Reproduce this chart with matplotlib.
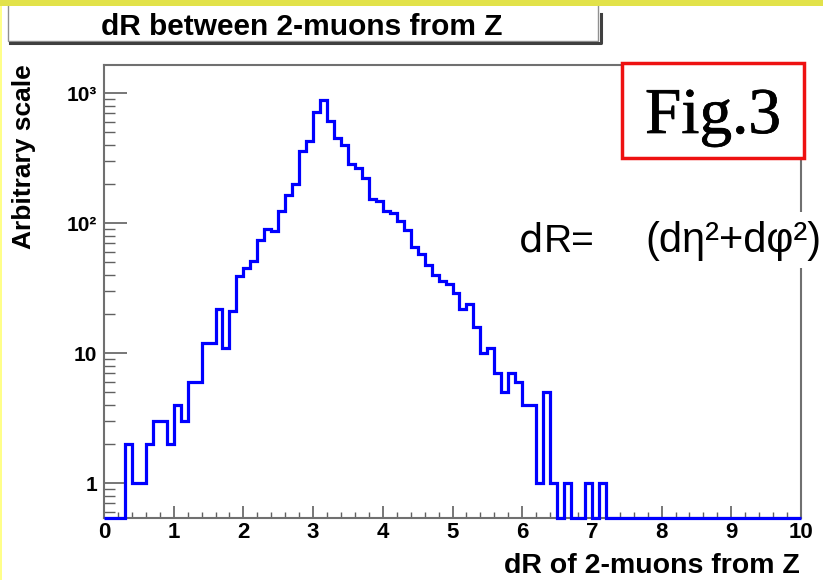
import numpy as np
import matplotlib.pyplot as plt
import matplotlib.patheffects as pe
from matplotlib.patches import Rectangle
from matplotlib.lines import Line2D
from matplotlib.ticker import FixedLocator, FixedFormatter, MultipleLocator, LogLocator, NullFormatter

plt.rcParams['font.family'] = ['Liberation Sans', 'DejaVu Sans']
plt.rcParams['font.weight'] = 'bold'

# dR histogram, 100 bins of 0.1 between 0 and 10
dr_edges = np.linspace(0, 10, 101)
dr_counts = [
    0, 0, 0, 2, 1, 1, 2, 3, 3, 2,
    4, 3, 6, 6, 12, 12, 22, 11, 21, 39,
    45, 51, 74, 90, 88, 124, 166, 200, 358, 428,
    714, 884, 617, 453, 400, 287, 266, 223, 155, 148,
    125, 120, 104, 89, 66, 58, 48, 40, 36, 34,
    29, 22, 24, 16, 10, 11, 7, 5, 7, 6,
    4, 4, 1, 5, 1, 0, 1, 0, 0, 1,
    0, 1, 0, 0, 0, 0, 0, 0, 0, 0,
    0, 0, 0, 0, 0, 0, 0, 0, 0, 0,
    0, 0, 0, 0, 0, 0, 0, 0, 0, 0,
]
y_ticks = [1, 10, 100, 1000]
y_tick_labels = ['1', '10', '10²', '10³']

W, H = 823, 580
def fx(px): return px / W
def fy(py): return 1 - py / H

fig = plt.figure(figsize=(W / 100, H / 100), dpi=100)
fig.patch.set_facecolor('white')

ax = fig.add_axes([fx(104), fy(518), fx(801) - fx(104), fy(65) - fy(518)])
ymin, ymax = 0.541, 1650
ax.set_yscale('log')
ax.set_xlim(0, 10)
ax.set_ylim(ymin, ymax)

# empty bins sit on the bottom of the frame, like ROOT draws them
shown = np.clip(np.array(dr_counts, dtype=float), ymin, None)
ax.stairs(shown, dr_edges, color='#0000ff', lw=2.3, baseline=None, clip_on=False, zorder=3)

ax.xaxis.set_major_locator(MultipleLocator(1))
ax.xaxis.set_minor_locator(MultipleLocator(0.2))
ax.yaxis.set_major_locator(FixedLocator(y_ticks))
ax.yaxis.set_major_formatter(FixedFormatter(y_tick_labels))
ax.yaxis.set_minor_locator(LogLocator(base=10, subs=np.arange(2, 10)))
ax.yaxis.set_minor_formatter(NullFormatter())

ax.tick_params(which='both', direction='in', color='#606060', labelcolor='black', top=False, right=False)
ax.tick_params(axis='x', which='major', length=8.6, width=1.2, pad=3, labelsize=16)
ax.tick_params(axis='x', which='minor', length=4.3, width=1.0)
ax.tick_params(axis='y', which='major', length=16.5, width=1.2, pad=5, labelsize=15)
ax.tick_params(axis='y', which='minor', length=8, width=1.0)
for s in ax.spines.values():
    s.set_color('#707070')
    s.set_linewidth(1.5)

fig.text(fx(24), fy(64), 'Arbitrary scale', rotation=90, ha='center', va='top', fontsize=19)
fig.text(fx(800), fy(566), 'dR of 2-muons from Z', ha='right', va='center', fontsize=20.5)

# title box with drop shadow
fig.add_artist(Rectangle((fx(8), fy(41)), fx(590), fy(2) - fy(41), transform=fig.transFigure,
                         facecolor='white', edgecolor='#909090', lw=1, zorder=4))
fig.add_artist(Line2D([fx(10), fx(601), fx(601)], [fy(43), fy(43), fy(14)],
                      transform=fig.transFigure, color='#404040', lw=2.2, zorder=4))
fig.text(fx(302), fy(27), 'dR between 2-muons from Z', ha='center', va='center', fontsize=21.5, zorder=5)

# yellow edges of the page
fig.add_artist(Rectangle((0, fy(6)), 1, fy(0) - fy(6), transform=fig.transFigure,
                         facecolor='#e2e24a', edgecolor='none', zorder=6))
fig.add_artist(Rectangle((0, 0), fx(2), fy(6), transform=fig.transFigure,
                         facecolor='#ffff8a', edgecolor='none', zorder=6))

# Fig.3 tag
fig.add_artist(Rectangle((fx(622), fy(158)), fx(182), fy(63) - fy(158), transform=fig.transFigure,
                         facecolor='white', edgecolor='#ee1111', lw=2.5, zorder=5))
fig.text(fx(713), fy(133), 'Fig.3', family='Liberation Serif', fontweight='normal', fontsize=47,
         ha='center', va='baseline', zorder=6,
         path_effects=[pe.withStroke(linewidth=0.5, foreground='black')])

# dR definition
fig.add_artist(Rectangle((fx(505), fy(268)), fx(318), fy(212) - fy(268), transform=fig.transFigure,
                         facecolor='white', edgecolor='none', zorder=5))
fig.text(fx(519), fy(252), 'd', family='Liberation Sans Narrow', fontweight='normal', fontsize=28,
         ha='left', va='baseline', zorder=6)
fig.text(fx(544), fy(252), 'R=', fontweight='normal', fontsize=28, ha='left', va='baseline', zorder=6)
fig.text(fx(645), fy(252), '(dη²+dφ²)', fontweight='normal', fontsize=30, ha='left', va='baseline', zorder=6)

fig.savefig('out.png', dpi=100)
